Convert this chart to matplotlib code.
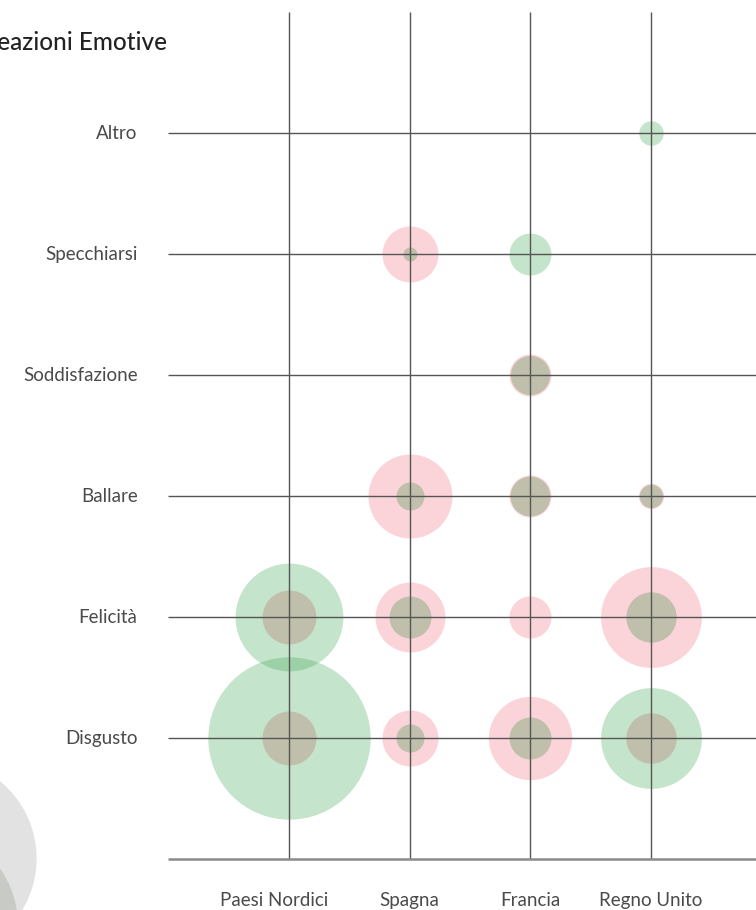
import matplotlib
matplotlib.use("Agg")
import matplotlib.pyplot as plt
import numpy as np

plt.rcParams['font.family'] = ['Lato', 'DejaVu Sans']

# ---- data -------------------------------------------------------------
paesi = ["Paesi Nordici", "Spagna", "Francia", "Regno Unito"]
emozioni = ["Disgusto", "Felicità", "Ballare", "Soddisfazione", "Specchiarsi", "Altro"]

# outer bubble size per emotion (rows) and country (columns); 0 = no bubble
esterno = [
    [11.6, 4.0, 5.95, 7.2],   # Disgusto
    [7.7, 5.0, 3.0, 7.2],     # Felicità
    [0.0, 6.0, 3.0, 1.8],     # Ballare
    [0.0, 0.0, 3.0, 0.0],     # Soddisfazione
    [0.0, 4.0, 3.0, 0.0],     # Specchiarsi
    [0.0, 0.0, 0.0, 1.75],    # Altro
]
# outer bubble group: "v" = green, "r" = pink
gruppo = [
    ["v", "r", "r", "v"],
    ["v", "r", "r", "r"],
    ["", "r", "r", "r"],
    ["", "", "r", ""],
    ["", "r", "v", ""],
    ["", "", "", "v"],
]
# inner bubble size
interno = [
    [3.85, 2.0, 3.0, 3.6],
    [3.85, 3.0, 0.0, 3.6],
    [0.0, 2.0, 2.85, 1.67],
    [0.0, 0.0, 2.8, 0.0],
    [0.0, 1.0, 0.0, 0.0],
    [0.0, 0.0, 0.0, 0.0],
]
# size legend (partially visible in the lower-left corner)
legenda = [14.3, 13.9]

titolo = "Reazioni Emotive"

# ---- style --------------------------------------------------------------
DPI = 100
W, H = 756, 910
PX_PER_UNIT = 7.0            # bubble radius in pixels per unit of size
COL = {"v": (0.29, 0.67, 0.37, 0.32), "r": (0.96, 0.45, 0.52, 0.30)}
COL_INT = "#bfbfac"
LINE = "#555555"
TXT = "#4a4a4a"


def area(v):
    """scatter marker area (pt^2) for a bubble of size v"""
    d_pt = 2 * v * PX_PER_UNIT * 72.0 / DPI
    return d_pt ** 2


fig = plt.figure(figsize=(W / DPI, H / DPI), dpi=DPI)
ax = fig.add_axes([0, 0, 1, 1])
ax.set_axis_off()

# one category step is ~120.7 px horizontally and 121 px vertically
ax.set_xlim(-2.395, -2.395 + W / 120.67)
ax.set_ylim(-1.421, -1.421 + H / 121.0)

nx, ny = len(paesi), len(emozioni)
xs = np.arange(nx)
ys = np.arange(ny)

# size legend circles
ax.scatter([-2.925], [-0.99], s=area(legenda[0]), color="#e2e2e2", lw=0, zorder=1)
ax.scatter([-3.06], [-1.54], s=area(legenda[1]), color=(0.6, 0.62, 0.58, 0.35), lw=0, zorder=1)

# outer bubbles
for j in range(ny):
    for i in range(nx):
        v = esterno[j][i]
        if v > 0:
            ax.scatter(xs[i], ys[j], s=area(v), color=COL[gruppo[j][i]], lw=0, zorder=2)

# inner bubbles
for j in range(ny):
    for i in range(nx):
        v = interno[j][i]
        if v > 0:
            ax.scatter(xs[i], ys[j], s=area(v), color=COL_INT, lw=0, zorder=3)

# grid
for y in ys:
    ax.plot([-1.0, 10], [y, y], color=LINE, lw=1.0, zorder=4, solid_capstyle="butt")
for x in xs:
    ax.plot([x, x], [-1.0, ny], color=LINE, lw=1.0, zorder=4, solid_capstyle="butt")
ax.plot([-1.0, 10], [-1.0, -1.0], color="#8a8a8a", lw=1.8, zorder=4, solid_capstyle="butt")

# labels
for y, lab in zip(ys, emozioni):
    ax.text(-1.255, y, lab, ha="right", va="center", fontsize=13.5, color=TXT,
            fontweight="normal")
x_shift = [-0.12, 0, 0, 0]
for x, lab, dx in zip(xs, paesi, x_shift):
    ax.text(x + dx, -1.34, lab, ha="center", va="center", fontsize=13.5, color=TXT,
            fontweight="normal")

# title, running off the left edge of the canvas
ax.text(1.385 - 2.395, 5.752, titolo, ha="right", va="center", fontsize=17.5,
        color="#222222", fontweight="medium")

fig.savefig("out.png", dpi=DPI)
